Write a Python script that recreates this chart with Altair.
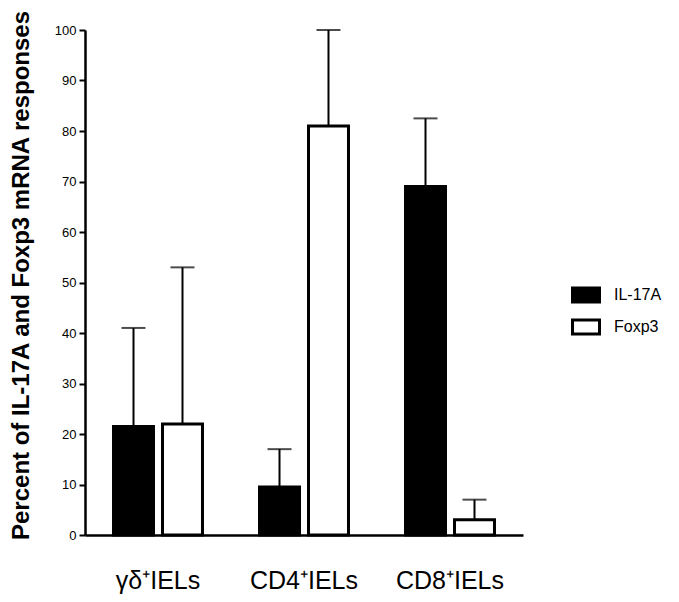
import altair as alt
import pandas as pd

groups = ["γδ⁺IELs", "CD4⁺IELs", "CD8⁺IELs"]
series = ["IL-17A", "Foxp3"]
il17a_mean = [21.5, 9.5, 69.0]
il17a_err = [19.5, 7.5, 13.5]
foxp3_mean = [22.0, 81.0, 3.0]
foxp3_err = [31.0, 19.0, 4.0]
y_ticks = list(range(0, 101, 10))

rows = []
for g, m, e in zip(groups, il17a_mean, il17a_err):
    rows.append({"group": g, "series": "IL-17A", "mean": m, "top": m + e})
for g, m, e in zip(groups, foxp3_mean, foxp3_err):
    rows.append({"group": g, "series": "Foxp3", "mean": m, "top": m + e})
df = pd.DataFrame(rows)

FONT = "Liberation Sans"

x_enc = alt.X("group:N", sort=groups, title=None,
              scale=alt.Scale(paddingInner=0, paddingOuter=0),
              axis=alt.Axis(labelAngle=0, ticks=False, labelFontSize=25,
                            labelColor="black", labelPadding=33,
                            domainColor="black", domainWidth=2.5,
                            labelFont=FONT))
xo_enc = alt.XOffset("series:N", sort=series,
                     scale=alt.Scale(paddingInner=0.184, paddingOuter=0.582))

base = alt.Chart(df)

bars = base.mark_bar(stroke="black", strokeWidth=3).encode(
    x=x_enc,
    xOffset=xo_enc,
    y=alt.Y("mean:Q", scale=alt.Scale(domain=[0, 100], nice=False),
            title="Percent of IL-17A and Foxp3 mRNA responses",
            axis=alt.Axis(values=y_ticks, grid=False, tickSize=6, tickWidth=2,
                          tickColor="black", domainColor="black", domainWidth=2.5,
                          labelFontSize=13, labelColor="black", labelPadding=3,
                          labelFont=FONT,
                          titleFont=FONT, titleFontSize=24,
                          titleFontWeight="bold", titleColor="black",
                          titlePadding=21, titleY=245)),
    fill=alt.Fill("series:N", sort=series,
                  scale=alt.Scale(domain=series, range=["black", "white"]),
                  legend=alt.Legend(title=None, orient="none", legendX=486, legendY=250,
                                    labelFontSize=16, labelFont=FONT,
                                    labelColor="black",
                                    symbolType="M-1,-0.52H1V0.52H-1Z", symbolSize=729,
                                    symbolStrokeColor="black", symbolStrokeWidth=3,
                                    rowPadding=3, labelOffset=13)),
)

rules = base.mark_rule(color="black", strokeWidth=2).encode(
    x=alt.X("group:N", sort=groups),
    xOffset=xo_enc,
    y=alt.Y("mean:Q"),
    y2="top:Q",
)

caps = base.mark_tick(color="black", thickness=2, size=24, orient="horizontal").encode(
    x=alt.X("group:N", sort=groups),
    xOffset=xo_enc,
    y=alt.Y("top:Q"),
)

chart = alt.layer(bars, rules, caps).properties(
    width=438, height=505, background="white",
    autosize=alt.AutoSizeParams(type="none"),
    padding={"left": 77, "top": 22, "right": 148, "bottom": 59},
).configure_view(strokeWidth=0)

chart.save("out.html", embed_options={"renderer": "svg", "actions": False})
